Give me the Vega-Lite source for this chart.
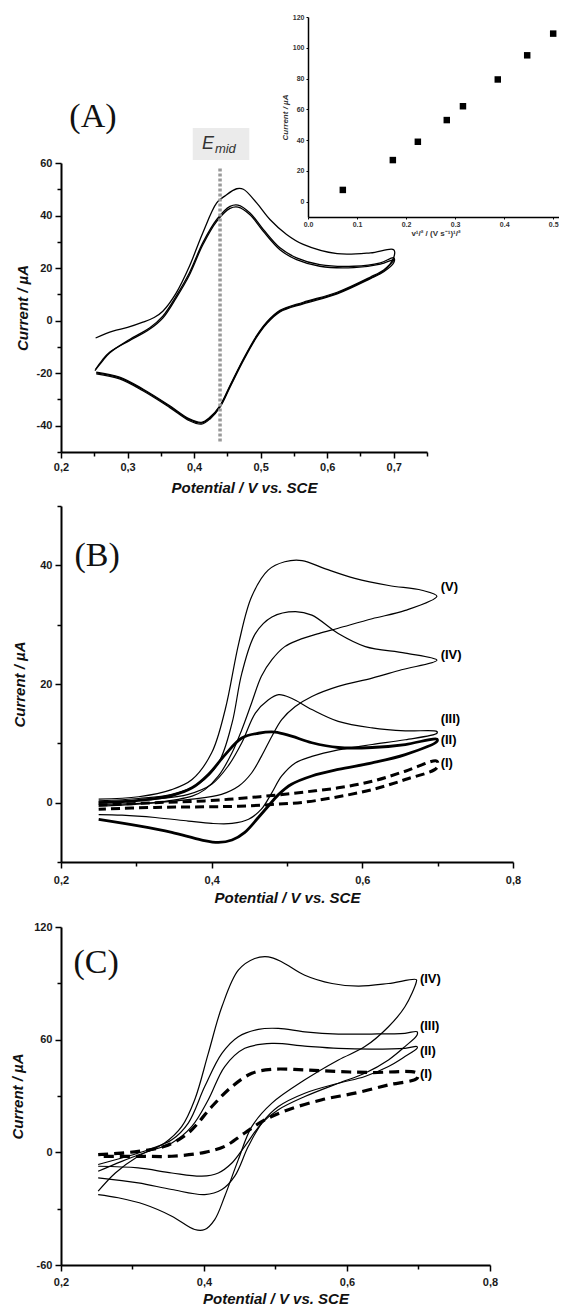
{
"$schema": "https://vega.github.io/schema/vega-lite/v6.json",
"padding": {"left": 10, "top": 13, "right": 0, "bottom": 0},
"spacing": 5,
"config": {
 "view": {"stroke": null},
 "axis": {"domainColor": "#000", "domainWidth": 2, "tickColor": "#000", "tickWidth": 1.5, "grid": false, "labelFont": "Liberation Sans", "labelFontWeight": "bold", "labelFontSize": 11, "labelColor": "#1a1a1a", "titleFont": "Liberation Sans", "titleFontSize": 15, "titleFontWeight": "bold", "titleColor": "#111", "labelFlush": false, "labelOverlap": false}
},
"datasets": {
 "A": [
  {"s":"A1","i":0,"x":0.252,"y":-6.6},{"s":"A1","i":1,"x":0.278,"y":-4.0},{"s":"A1","i":2,"x":0.300,"y":-2.6},{"s":"A1","i":3,"x":0.323,"y":-0.6},{"s":"A1","i":4,"x":0.340,"y":1.2},{"s":"A1","i":5,"x":0.353,"y":3.6},{"s":"A1","i":6,"x":0.373,"y":10.5},{"s":"A1","i":7,"x":0.393,"y":20.7},{"s":"A1","i":8,"x":0.413,"y":33.4},{"s":"A1","i":9,"x":0.434,"y":44.8},{"s":"A1","i":10,"x":0.446,"y":47.4},{"s":"A1","i":11,"x":0.464,"y":50.2},{"s":"A1","i":12,"x":0.474,"y":50.0},{"s":"A1","i":13,"x":0.494,"y":44.8},{"s":"A1","i":14,"x":0.514,"y":38.5},{"s":"A1","i":15,"x":0.539,"y":32.8},{"s":"A1","i":16,"x":0.564,"y":29.0},{"s":"A1","i":17,"x":0.615,"y":25.5},{"s":"A1","i":18,"x":0.665,"y":25.8},{"s":"A1","i":19,"x":0.700,"y":27.0},
  {"s":"A1","i":20,"x":0.700,"y":24.0},{"s":"A1","i":21,"x":0.685,"y":19.0},{"s":"A1","i":22,"x":0.665,"y":16.3},{"s":"A1","i":23,"x":0.615,"y":10.5},{"s":"A1","i":24,"x":0.564,"y":6.7},{"s":"A1","i":25,"x":0.529,"y":3.6},{"s":"A1","i":26,"x":0.509,"y":-0.9},{"s":"A1","i":27,"x":0.494,"y":-6.0},{"s":"A1","i":28,"x":0.474,"y":-14.9},{"s":"A1","i":29,"x":0.454,"y":-25.0},{"s":"A1","i":30,"x":0.439,"y":-32.6},{"s":"A1","i":31,"x":0.424,"y":-37.0},{"s":"A1","i":32,"x":0.411,"y":-39.0},{"s":"A1","i":33,"x":0.393,"y":-37.7},{"s":"A1","i":34,"x":0.363,"y":-32.6},{"s":"A1","i":35,"x":0.323,"y":-26.3},{"s":"A1","i":36,"x":0.288,"y":-21.8},{"s":"A1","i":37,"x":0.253,"y":-19.9},
  {"s":"A2","i":0,"x":0.251,"y":-19.0},{"s":"A2","i":1,"x":0.262,"y":-15.5},{"s":"A2","i":2,"x":0.273,"y":-12.3},{"s":"A2","i":3,"x":0.303,"y":-7.2},{"s":"A2","i":4,"x":0.333,"y":-2.8},{"s":"A2","i":5,"x":0.353,"y":1.7},{"s":"A2","i":6,"x":0.373,"y":9.3},{"s":"A2","i":7,"x":0.393,"y":18.2},{"s":"A2","i":8,"x":0.413,"y":29.6},{"s":"A2","i":9,"x":0.434,"y":38.5},{"s":"A2","i":10,"x":0.454,"y":43.5},{"s":"A2","i":11,"x":0.466,"y":44.0},{"s":"A2","i":12,"x":0.484,"y":41.0},{"s":"A2","i":13,"x":0.504,"y":34.7},{"s":"A2","i":14,"x":0.529,"y":27.7},{"s":"A2","i":15,"x":0.554,"y":23.9},{"s":"A2","i":16,"x":0.589,"y":21.3},{"s":"A2","i":17,"x":0.640,"y":20.7},{"s":"A2","i":18,"x":0.680,"y":22.0},{"s":"A2","i":19,"x":0.700,"y":23.9},
  {"s":"A2","i":20,"x":0.700,"y":22.0},{"s":"A2","i":21,"x":0.685,"y":18.6},{"s":"A2","i":22,"x":0.665,"y":16.0},{"s":"A2","i":23,"x":0.615,"y":10.2},{"s":"A2","i":24,"x":0.564,"y":6.4},{"s":"A2","i":25,"x":0.529,"y":3.3},{"s":"A2","i":26,"x":0.509,"y":-1.2},{"s":"A2","i":27,"x":0.494,"y":-6.3},{"s":"A2","i":28,"x":0.474,"y":-15.2},{"s":"A2","i":29,"x":0.454,"y":-25.3},{"s":"A2","i":30,"x":0.439,"y":-32.9},{"s":"A2","i":31,"x":0.424,"y":-37.4},{"s":"A2","i":32,"x":0.411,"y":-39.4},{"s":"A2","i":33,"x":0.393,"y":-38.1},{"s":"A2","i":34,"x":0.363,"y":-33.0},{"s":"A2","i":35,"x":0.323,"y":-26.7},{"s":"A2","i":36,"x":0.288,"y":-22.2},{"s":"A2","i":37,"x":0.253,"y":-20.3},
  {"s":"A3","i":0,"x":0.252,"y":-18.5},{"s":"A3","i":1,"x":0.262,"y":-15.0},{"s":"A3","i":2,"x":0.273,"y":-12.0},{"s":"A3","i":3,"x":0.303,"y":-7.6},{"s":"A3","i":4,"x":0.333,"y":-3.3},{"s":"A3","i":5,"x":0.353,"y":1.0},{"s":"A3","i":6,"x":0.373,"y":8.6},{"s":"A3","i":7,"x":0.393,"y":17.4},{"s":"A3","i":8,"x":0.413,"y":28.8},{"s":"A3","i":9,"x":0.434,"y":37.8},{"s":"A3","i":10,"x":0.454,"y":42.7},{"s":"A3","i":11,"x":0.466,"y":43.2},{"s":"A3","i":12,"x":0.484,"y":40.3},{"s":"A3","i":13,"x":0.504,"y":34.0},{"s":"A3","i":14,"x":0.529,"y":27.0},{"s":"A3","i":15,"x":0.554,"y":23.2},{"s":"A3","i":16,"x":0.589,"y":20.7},{"s":"A3","i":17,"x":0.640,"y":20.2},{"s":"A3","i":18,"x":0.680,"y":21.5},{"s":"A3","i":19,"x":0.700,"y":23.2},
  {"s":"A3","i":20,"x":0.700,"y":23.0},{"s":"A3","i":21,"x":0.685,"y":19.3},{"s":"A3","i":22,"x":0.665,"y":16.6},{"s":"A3","i":23,"x":0.615,"y":10.8},{"s":"A3","i":24,"x":0.564,"y":7.0},{"s":"A3","i":25,"x":0.529,"y":3.9},{"s":"A3","i":26,"x":0.509,"y":-0.6},{"s":"A3","i":27,"x":0.494,"y":-5.7},{"s":"A3","i":28,"x":0.474,"y":-14.6},{"s":"A3","i":29,"x":0.454,"y":-24.7},{"s":"A3","i":30,"x":0.439,"y":-32.3},{"s":"A3","i":31,"x":0.424,"y":-36.7},{"s":"A3","i":32,"x":0.411,"y":-38.7},{"s":"A3","i":33,"x":0.393,"y":-37.4},{"s":"A3","i":34,"x":0.363,"y":-32.3},{"s":"A3","i":35,"x":0.323,"y":-26.0},{"s":"A3","i":36,"x":0.288,"y":-21.5},{"s":"A3","i":37,"x":0.253,"y":-19.6}
 ],
 "inset": [
  {"x":0.071,"y":7.6},{"x":0.173,"y":27.0},{"x":0.224,"y":38.9},{"x":0.283,"y":53.0},{"x":0.316,"y":62.0},{"x":0.387,"y":79.4},{"x":0.447,"y":95.1},{"x":0.500,"y":109.2}
 ],
 "B": [
  {"s":"V","i":0,"x":0.250,"y":0.6},{"s":"V","i":1,"x":0.303,"y":1.0},{"s":"V","i":2,"x":0.347,"y":2.2},{"s":"V","i":3,"x":0.374,"y":3.9},{"s":"V","i":4,"x":0.400,"y":8.4},{"s":"V","i":5,"x":0.418,"y":15.7},{"s":"V","i":6,"x":0.436,"y":26.9},{"s":"V","i":7,"x":0.453,"y":34.7},{"s":"V","i":8,"x":0.475,"y":39.2},{"s":"V","i":9,"x":0.497,"y":40.6},{"s":"V","i":10,"x":0.520,"y":40.8},{"s":"V","i":11,"x":0.551,"y":39.4},{"s":"V","i":12,"x":0.590,"y":37.8},{"s":"V","i":13,"x":0.635,"y":36.6},{"s":"V","i":14,"x":0.679,"y":35.8},{"s":"V","i":15,"x":0.699,"y":34.8},
  {"s":"V","i":16,"x":0.657,"y":32.4},{"s":"V","i":17,"x":0.613,"y":31.0},{"s":"V","i":18,"x":0.568,"y":29.4},{"s":"V","i":19,"x":0.542,"y":28.5},{"s":"V","i":20,"x":0.515,"y":27.4},{"s":"V","i":21,"x":0.497,"y":26.3},{"s":"V","i":22,"x":0.480,"y":24.1},{"s":"V","i":23,"x":0.466,"y":21.3},{"s":"V","i":24,"x":0.453,"y":16.8},{"s":"V","i":25,"x":0.440,"y":12.3},{"s":"V","i":26,"x":0.427,"y":8.4},{"s":"V","i":27,"x":0.409,"y":4.5},{"s":"V","i":28,"x":0.391,"y":2.2},{"s":"V","i":29,"x":0.374,"y":1.1},{"s":"V","i":30,"x":0.325,"y":0.0},{"s":"V","i":31,"x":0.281,"y":-0.4},{"s":"V","i":32,"x":0.250,"y":-0.6},
  {"s":"IV","i":0,"x":0.250,"y":0.3},{"s":"IV","i":1,"x":0.303,"y":0.7},{"s":"IV","i":2,"x":0.347,"y":1.4},{"s":"IV","i":3,"x":0.382,"y":3.1},{"s":"IV","i":4,"x":0.409,"y":6.7},{"s":"IV","i":5,"x":0.427,"y":13.4},{"s":"IV","i":6,"x":0.440,"y":21.8},{"s":"IV","i":7,"x":0.458,"y":28.5},{"s":"IV","i":8,"x":0.480,"y":31.3},{"s":"IV","i":9,"x":0.511,"y":32.2},{"s":"IV","i":10,"x":0.533,"y":31.6},{"s":"IV","i":11,"x":0.568,"y":28.5},{"s":"IV","i":12,"x":0.604,"y":26.3},{"s":"IV","i":13,"x":0.657,"y":25.2},{"s":"IV","i":14,"x":0.699,"y":24.0},
  {"s":"IV","i":15,"x":0.652,"y":22.4},{"s":"IV","i":16,"x":0.613,"y":21.0},{"s":"IV","i":17,"x":0.568,"y":19.6},{"s":"IV","i":18,"x":0.533,"y":17.9},{"s":"IV","i":19,"x":0.511,"y":16.2},{"s":"IV","i":20,"x":0.493,"y":14.0},{"s":"IV","i":21,"x":0.480,"y":11.2},{"s":"IV","i":22,"x":0.466,"y":7.8},{"s":"IV","i":23,"x":0.453,"y":5.0},{"s":"IV","i":24,"x":0.436,"y":2.8},{"s":"IV","i":25,"x":0.413,"y":1.4},{"s":"IV","i":26,"x":0.374,"y":0.6},{"s":"IV","i":27,"x":0.325,"y":0.0},{"s":"IV","i":28,"x":0.250,"y":-0.3},
  {"s":"III","i":0,"x":0.250,"y":0.1},{"s":"III","i":1,"x":0.325,"y":0.6},{"s":"III","i":2,"x":0.369,"y":1.4},{"s":"III","i":3,"x":0.400,"y":3.1},{"s":"III","i":4,"x":0.422,"y":6.2},{"s":"III","i":5,"x":0.440,"y":10.1},{"s":"III","i":6,"x":0.458,"y":15.1},{"s":"III","i":7,"x":0.475,"y":17.3},{"s":"III","i":8,"x":0.489,"y":18.2},{"s":"III","i":9,"x":0.506,"y":17.6},{"s":"III","i":10,"x":0.533,"y":15.7},{"s":"III","i":11,"x":0.568,"y":13.7},{"s":"III","i":12,"x":0.613,"y":12.6},{"s":"III","i":13,"x":0.657,"y":12.1},{"s":"III","i":14,"x":0.699,"y":12.0},
  {"s":"III","i":15,"x":0.699,"y":11.7},{"s":"III","i":16,"x":0.657,"y":10.6},{"s":"III","i":17,"x":0.613,"y":9.8},{"s":"III","i":18,"x":0.568,"y":8.9},{"s":"III","i":19,"x":0.533,"y":7.8},{"s":"III","i":20,"x":0.511,"y":6.7},{"s":"III","i":21,"x":0.493,"y":4.5},{"s":"III","i":22,"x":0.480,"y":1.7},{"s":"III","i":23,"x":0.466,"y":-1.1},{"s":"III","i":24,"x":0.449,"y":-2.8},{"s":"III","i":25,"x":0.427,"y":-3.5},{"s":"III","i":26,"x":0.400,"y":-3.5},{"s":"III","i":27,"x":0.369,"y":-3.1},{"s":"III","i":28,"x":0.325,"y":-2.5},{"s":"III","i":29,"x":0.281,"y":-2.1},{"s":"III","i":30,"x":0.250,"y":-2.0},
  {"s":"II","i":0,"x":0.250,"y":0.0},{"s":"II","i":1,"x":0.303,"y":0.4},{"s":"II","i":2,"x":0.347,"y":1.2},{"s":"II","i":3,"x":0.374,"y":2.5},{"s":"II","i":4,"x":0.396,"y":4.8},{"s":"II","i":5,"x":0.418,"y":8.1},{"s":"II","i":6,"x":0.440,"y":10.9},{"s":"II","i":7,"x":0.462,"y":11.7},{"s":"II","i":8,"x":0.484,"y":11.9},{"s":"II","i":9,"x":0.506,"y":11.2},{"s":"II","i":10,"x":0.533,"y":10.1},{"s":"II","i":11,"x":0.568,"y":9.3},{"s":"II","i":12,"x":0.613,"y":9.3},{"s":"II","i":13,"x":0.657,"y":9.8},{"s":"II","i":14,"x":0.699,"y":10.7},
  {"s":"II","i":15,"x":0.699,"y":10.3},{"s":"II","i":16,"x":0.657,"y":8.1},{"s":"II","i":17,"x":0.613,"y":6.7},{"s":"II","i":18,"x":0.568,"y":5.6},{"s":"II","i":19,"x":0.533,"y":4.5},{"s":"II","i":20,"x":0.506,"y":3.1},{"s":"II","i":21,"x":0.489,"y":1.4},{"s":"II","i":22,"x":0.475,"y":-0.6},{"s":"II","i":23,"x":0.462,"y":-2.5},{"s":"II","i":24,"x":0.444,"y":-5.0},{"s":"II","i":25,"x":0.427,"y":-6.3},{"s":"II","i":26,"x":0.409,"y":-6.7},{"s":"II","i":27,"x":0.387,"y":-6.3},{"s":"II","i":28,"x":0.347,"y":-5.0},{"s":"II","i":29,"x":0.303,"y":-3.9},{"s":"II","i":30,"x":0.250,"y":-2.8},
  {"s":"I","i":0,"x":0.250,"y":-0.4},{"s":"I","i":1,"x":0.325,"y":0.0},{"s":"I","i":2,"x":0.391,"y":0.3},{"s":"I","i":3,"x":0.436,"y":0.7},{"s":"I","i":4,"x":0.480,"y":1.2},{"s":"I","i":5,"x":0.524,"y":1.8},{"s":"I","i":6,"x":0.568,"y":2.5},{"s":"I","i":7,"x":0.613,"y":3.6},{"s":"I","i":8,"x":0.657,"y":5.3},{"s":"I","i":9,"x":0.699,"y":7.0},
  {"s":"I","i":10,"x":0.699,"y":5.9},{"s":"I","i":11,"x":0.657,"y":3.9},{"s":"I","i":12,"x":0.613,"y":2.2},{"s":"I","i":13,"x":0.568,"y":1.0},{"s":"I","i":14,"x":0.524,"y":0.1},{"s":"I","i":15,"x":0.480,"y":-0.3},{"s":"I","i":16,"x":0.436,"y":-0.6},{"s":"I","i":17,"x":0.391,"y":-0.7},{"s":"I","i":18,"x":0.325,"y":-0.8},{"s":"I","i":19,"x":0.250,"y":-1.1}
 ],
 "C": [
  {"s":"IV","i":0,"x":0.252,"y":-20.7},{"s":"IV","i":1,"x":0.276,"y":-11.0},{"s":"IV","i":2,"x":0.308,"y":-2.1},{"s":"IV","i":3,"x":0.345,"y":5.0},{"s":"IV","i":4,"x":0.369,"y":13.8},{"s":"IV","i":5,"x":0.387,"y":28.0},{"s":"IV","i":6,"x":0.406,"y":52.7},{"s":"IV","i":7,"x":0.425,"y":77.5},{"s":"IV","i":8,"x":0.448,"y":97.0},{"s":"IV","i":9,"x":0.471,"y":103.2},{"s":"IV","i":10,"x":0.490,"y":104.1},{"s":"IV","i":11,"x":0.509,"y":101.4},{"s":"IV","i":12,"x":0.541,"y":94.3},{"s":"IV","i":13,"x":0.579,"y":89.9},{"s":"IV","i":14,"x":0.616,"y":88.5},{"s":"IV","i":15,"x":0.658,"y":89.9},{"s":"IV","i":16,"x":0.697,"y":92.0},
  {"s":"IV","i":17,"x":0.697,"y":90.8},{"s":"IV","i":18,"x":0.681,"y":77.5},{"s":"IV","i":19,"x":0.658,"y":66.9},{"s":"IV","i":20,"x":0.625,"y":56.3},{"s":"IV","i":21,"x":0.588,"y":49.2},{"s":"IV","i":22,"x":0.541,"y":38.6},{"s":"IV","i":23,"x":0.495,"y":26.2},{"s":"IV","i":24,"x":0.467,"y":13.8},{"s":"IV","i":25,"x":0.448,"y":-3.9},{"s":"IV","i":26,"x":0.429,"y":-23.4},{"s":"IV","i":27,"x":0.415,"y":-35.8},{"s":"IV","i":28,"x":0.401,"y":-41.1},{"s":"IV","i":29,"x":0.387,"y":-41.1},{"s":"IV","i":30,"x":0.355,"y":-34.0},{"s":"IV","i":31,"x":0.317,"y":-27.8},{"s":"IV","i":32,"x":0.280,"y":-24.2},{"s":"IV","i":33,"x":0.252,"y":-22.5},
  {"s":"III","i":0,"x":0.252,"y":-6.5},{"s":"III","i":1,"x":0.285,"y":-3.0},{"s":"III","i":2,"x":0.322,"y":1.4},{"s":"III","i":3,"x":0.355,"y":6.7},{"s":"III","i":4,"x":0.378,"y":15.6},{"s":"III","i":5,"x":0.401,"y":35.0},{"s":"III","i":6,"x":0.425,"y":52.7},{"s":"III","i":7,"x":0.448,"y":61.6},{"s":"III","i":8,"x":0.476,"y":65.5},{"s":"III","i":9,"x":0.504,"y":66.0},{"s":"III","i":10,"x":0.541,"y":64.2},{"s":"III","i":11,"x":0.588,"y":63.0},{"s":"III","i":12,"x":0.634,"y":63.0},{"s":"III","i":13,"x":0.681,"y":63.4},{"s":"III","i":14,"x":0.698,"y":64.2},
  {"s":"III","i":15,"x":0.698,"y":62.5},{"s":"III","i":16,"x":0.681,"y":56.3},{"s":"III","i":17,"x":0.658,"y":49.2},{"s":"III","i":18,"x":0.625,"y":42.1},{"s":"III","i":19,"x":0.588,"y":36.8},{"s":"III","i":20,"x":0.541,"y":29.7},{"s":"III","i":21,"x":0.504,"y":22.7},{"s":"III","i":22,"x":0.481,"y":15.6},{"s":"III","i":23,"x":0.457,"y":3.2},{"s":"III","i":24,"x":0.439,"y":-5.7},{"s":"III","i":25,"x":0.420,"y":-11.0},{"s":"III","i":26,"x":0.397,"y":-12.7},{"s":"III","i":27,"x":0.355,"y":-11.0},{"s":"III","i":28,"x":0.308,"y":-8.3},{"s":"III","i":29,"x":0.252,"y":-7.4},
  {"s":"II","i":0,"x":0.252,"y":-10.1},{"s":"II","i":1,"x":0.285,"y":-4.8},{"s":"II","i":2,"x":0.322,"y":0.5},{"s":"II","i":3,"x":0.355,"y":5.0},{"s":"II","i":4,"x":0.383,"y":13.8},{"s":"II","i":5,"x":0.406,"y":28.0},{"s":"II","i":6,"x":0.429,"y":45.7},{"s":"II","i":7,"x":0.457,"y":55.4},{"s":"II","i":8,"x":0.495,"y":58.0},{"s":"II","i":9,"x":0.541,"y":56.6},{"s":"II","i":10,"x":0.588,"y":55.4},{"s":"II","i":11,"x":0.634,"y":55.0},{"s":"II","i":12,"x":0.681,"y":55.4},{"s":"II","i":13,"x":0.698,"y":56.3},
  {"s":"II","i":14,"x":0.698,"y":55.4},{"s":"II","i":15,"x":0.681,"y":51.0},{"s":"II","i":16,"x":0.658,"y":45.7},{"s":"II","i":17,"x":0.625,"y":40.4},{"s":"II","i":18,"x":0.588,"y":36.8},{"s":"II","i":19,"x":0.541,"y":31.5},{"s":"II","i":20,"x":0.504,"y":24.4},{"s":"II","i":21,"x":0.481,"y":15.6},{"s":"II","i":22,"x":0.462,"y":3.2},{"s":"II","i":23,"x":0.443,"y":-12.7},{"s":"II","i":24,"x":0.425,"y":-19.8},{"s":"II","i":25,"x":0.401,"y":-22.5},{"s":"II","i":26,"x":0.355,"y":-19.8},{"s":"II","i":27,"x":0.308,"y":-16.3},{"s":"II","i":28,"x":0.252,"y":-13.6},
  {"s":"I","i":0,"x":0.252,"y":-1.2},{"s":"I","i":1,"x":0.308,"y":0.5},{"s":"I","i":2,"x":0.345,"y":3.2},{"s":"I","i":3,"x":0.378,"y":10.3},{"s":"I","i":4,"x":0.411,"y":24.4},{"s":"I","i":5,"x":0.439,"y":35.0},{"s":"I","i":6,"x":0.467,"y":42.1},{"s":"I","i":7,"x":0.495,"y":44.2},{"s":"I","i":8,"x":0.541,"y":43.9},{"s":"I","i":9,"x":0.588,"y":43.0},{"s":"I","i":10,"x":0.634,"y":42.5},{"s":"I","i":11,"x":0.698,"y":42.1},
  {"s":"I","i":12,"x":0.698,"y":39.5},{"s":"I","i":13,"x":0.658,"y":35.9},{"s":"I","i":14,"x":0.611,"y":31.5},{"s":"I","i":15,"x":0.565,"y":28.0},{"s":"I","i":16,"x":0.518,"y":22.7},{"s":"I","i":17,"x":0.485,"y":17.3},{"s":"I","i":18,"x":0.457,"y":10.3},{"s":"I","i":19,"x":0.429,"y":3.2},{"s":"I","i":20,"x":0.401,"y":0.0},{"s":"I","i":21,"x":0.355,"y":-2.1},{"s":"I","i":22,"x":0.308,"y":-2.1},{"s":"I","i":23,"x":0.252,"y":-2.1}
 ]
},
"vconcat": [
 {
  "width": 366, "height": 289,
  "layer": [
   {
    "encoding": {
     "x": {"field": "x", "type": "quantitative", "scale": {"domain": [0.2, 0.75], "nice": false, "zero": false},
       "axis": {"values": [0.2,0.25,0.3,0.35,0.4,0.45,0.5,0.55,0.6,0.65,0.7,0.75], "labelExpr": "abs(datum.value*10-round(datum.value*10))<0.01 ? replace(format(datum.value,'.1f'),'.',',') : ''", "tickSize": {"condition": {"test": "abs(datum.value*10-round(datum.value*10))<0.01", "value": 6}, "value": 4}, "labelPadding": 3, "title": "Potential / V vs. SCE", "titleFontStyle": "italic", "titlePadding": 8}},
     "y": {"field": "y", "type": "quantitative", "scale": {"domain": [-50, 60], "nice": false, "zero": false},
       "axis": {"values": [-50,-40,-30,-20,-10,0,10,20,30,40,50,60], "labelExpr": "datum.value % 20 === 0 && datum.value > -50 ? '' + datum.value : ''", "tickSize": {"condition": {"test": "datum.value % 20 === 0", "value": 6}, "value": 4}, "labelPadding": 3, "title": "Current / µA", "titleFontStyle": "italic", "titlePadding": 6}}
    },
    "layer": [
     {"data": {"name": "A"}, "mark": {"type": "line", "stroke": "#000", "strokeWidth": 1.3, "interpolate": "catmull-rom"}, "encoding": {"detail": {"field": "s"}, "order": {"field": "i", "type": "quantitative"}}},
     {"data": {"values": [{"x": 0.398, "x2": 0.483, "y": 61.1, "y2": 73.3}]}, "mark": {"type": "rect", "fill": "#ebebeb"}, "encoding": {"x2": {"field": "x2"}, "y2": {"field": "y2"}}},
     {"data": {"values": [{"x": 0.439, "y": -46, "y2": 58}]}, "mark": {"type": "rule", "stroke": "#999", "strokeWidth": 3.5, "strokeDash": [3, 2]}, "encoding": {"y2": {"field": "y2"}}},
     {"data": {"values": [{"x": 0.421, "y": 67.2, "t": "E"}]}, "mark": {"type": "text", "font": "Liberation Sans", "fontStyle": "italic", "fontSize": 18, "color": "#333", "align": "center", "baseline": "middle"}, "encoding": {"text": {"field": "t"}}},
     {"data": {"values": [{"x": 0.447, "y": 65.2, "t": "mid"}]}, "mark": {"type": "text", "font": "Liberation Sans", "fontStyle": "italic", "fontSize": 13, "color": "#333", "align": "center", "baseline": "middle"}, "encoding": {"text": {"field": "t"}}},
     {"data": {"values": [{"x": 0.248, "y": 77.5, "t": "(A)"}]}, "mark": {"type": "text", "font": "Liberation Serif", "fontSize": 34, "color": "#111", "align": "center", "baseline": "middle"}, "encoding": {"text": {"field": "t"}}}
    ]
   },
   {
    "data": {"name": "inset"},
    "mark": {"type": "square", "size": 42, "color": "#000", "opacity": 1},
    "encoding": {
     "x": {"field": "x", "type": "quantitative", "scale": {"domain": [0, 0.52], "range": [247, 502], "nice": false, "zero": false},
       "axis": {"orient": "bottom", "offset": -235, "values": [0,0.1,0.2,0.3,0.4,0.5], "format": ".1f", "labelFontSize": 7, "labelColor": "#333", "tickSize": 2, "tickWidth": 1, "domainWidth": 1.5, "labelPadding": 1, "title": "v¹/² / (V s⁻¹)¹/²", "titleFontSize": 8, "titleColor": "#333", "titlePadding": 2}},
     "y": {"field": "y", "type": "quantitative", "scale": {"domain": [-10, 120], "range": [54, -146], "nice": false, "zero": false},
       "axis": {"orient": "left", "offset": -247, "values": [0,20,40,60,80,100,120], "labelFontSize": 7, "labelColor": "#333", "tickSize": 2, "tickWidth": 1, "domainWidth": 1.5, "labelPadding": 2, "title": "Current / µA", "titleFontSize": 8, "titleFontStyle": "italic", "titleColor": "#333", "titlePadding": 3}}
    }
   }
  ],
  "resolve": {"scale": {"x": "independent", "y": "independent"}, "axis": {"x": "independent", "y": "independent"}}
 },
 {
  "spacing": 16,
  "vconcat": [
 {
  "width": 452, "height": 356,
  "encoding": {
   "x": {"field": "x", "type": "quantitative", "scale": {"domain": [0.2, 0.8], "nice": false, "zero": false},
     "axis": {"values": [0.2,0.3,0.4,0.5,0.6,0.7,0.8], "labelExpr": "round(datum.value*10) % 2 === 0 ? replace(format(datum.value,'.1f'),'.',',') : ''", "tickSize": {"condition": {"test": "round(datum.value*10) % 2 === 0", "value": 6}, "value": 4}, "labelPadding": 6, "title": "Potential / V vs. SCE", "titleFontStyle": "italic", "titlePadding": 5}},
   "y": {"field": "y", "type": "quantitative", "scale": {"domain": [-10, 50], "nice": false, "zero": false},
     "axis": {"values": [-10,0,10,20,30,40,50], "labelExpr": "datum.value % 20 === 0 ? '' + datum.value : ''", "tickSize": {"condition": {"test": "datum.value % 20 === 0", "value": 6}, "value": 4}, "labelPadding": 3, "title": "Current / µA", "titleFontStyle": "italic", "titlePadding": 12}}
  },
  "layer": [
   {"data": {"name": "B"}, "transform": [{"filter": "indexof(['III','IV','V'], datum.s) >= 0"}], "mark": {"type": "line", "stroke": "#000", "strokeWidth": 1.2, "interpolate": "catmull-rom"}, "encoding": {"detail": {"field": "s"}, "order": {"field": "i", "type": "quantitative"}}},
   {"data": {"name": "B"}, "transform": [{"filter": "datum.s === 'II'"}], "mark": {"type": "line", "stroke": "#000", "strokeWidth": 2.8, "interpolate": "catmull-rom"}, "encoding": {"detail": {"field": "s"}, "order": {"field": "i", "type": "quantitative"}}},
   {"data": {"name": "B"}, "transform": [{"filter": "datum.s === 'I'"}], "mark": {"type": "line", "stroke": "#000", "strokeWidth": 3, "strokeDash": [9, 5], "interpolate": "catmull-rom"}, "encoding": {"detail": {"field": "s"}, "order": {"field": "i", "type": "quantitative"}}},
   {"data": {"values": [{"x": 0.704, "y": 36.3, "t": "(V)"}, {"x": 0.704, "y": 24.9, "t": "(IV)"}, {"x": 0.704, "y": 14.1, "t": "(III)"}, {"x": 0.704, "y": 10.5, "t": "(II)"}, {"x": 0.704, "y": 6.7, "t": "(I)"}]}, "mark": {"type": "text", "font": "Liberation Sans", "fontWeight": "bold", "fontSize": 13, "color": "#000", "align": "left", "baseline": "middle"}, "encoding": {"text": {"field": "t"}}},
   {"data": {"values": [{"x": 0.248, "y": 41.5, "t": "(B)"}]}, "mark": {"type": "text", "font": "Liberation Serif", "fontSize": 34, "color": "#111", "align": "center", "baseline": "middle"}, "encoding": {"text": {"field": "t"}}}
  ]
 },
 {
  "width": 429, "height": 338,
  "encoding": {
   "x": {"field": "x", "type": "quantitative", "scale": {"domain": [0.2, 0.8], "nice": false, "zero": false},
     "axis": {"values": [0.2,0.3,0.4,0.5,0.6,0.7,0.8], "labelExpr": "round(datum.value*10) % 2 === 0 ? replace(format(datum.value,'.1f'),'.',',') : ''", "tickSize": {"condition": {"test": "round(datum.value*10) % 2 === 0", "value": 6}, "value": 4}, "labelPadding": 5, "title": "Potential / V vs. SCE", "titleFontStyle": "italic", "titlePadding": 4}},
   "y": {"field": "y", "type": "quantitative", "scale": {"domain": [-60, 120], "nice": false, "zero": false},
     "axis": {"values": [-60,-30,0,30,60,90,120], "labelExpr": "datum.value % 60 === 0 ? '' + datum.value : ''", "tickSize": {"condition": {"test": "datum.value % 60 === 0", "value": 6}, "value": 4}, "labelPadding": 3, "title": "Current / µA", "titleFontStyle": "italic", "titlePadding": 8}}
  },
  "layer": [
   {"data": {"name": "C"}, "transform": [{"filter": "datum.s !== 'I'"}], "mark": {"type": "line", "stroke": "#000", "strokeWidth": 1.2, "interpolate": "catmull-rom"}, "encoding": {"detail": {"field": "s"}, "order": {"field": "i", "type": "quantitative"}}},
   {"data": {"name": "C"}, "transform": [{"filter": "datum.s === 'I'"}], "mark": {"type": "line", "stroke": "#000", "strokeWidth": 3.2, "strokeDash": [10, 6], "interpolate": "catmull-rom"}, "encoding": {"detail": {"field": "s"}, "order": {"field": "i", "type": "quantitative"}}},
   {"data": {"values": [{"x": 0.702, "y": 92.5, "t": "(IV)"}, {"x": 0.702, "y": 67.1, "t": "(III)"}, {"x": 0.702, "y": 53.8, "t": "(II)"}, {"x": 0.702, "y": 41.7, "t": "(I)"}]}, "mark": {"type": "text", "font": "Liberation Sans", "fontWeight": "bold", "fontSize": 13, "color": "#000", "align": "left", "baseline": "middle"}, "encoding": {"text": {"field": "t"}}},
   {"data": {"values": [{"x": 0.249, "y": 101, "t": "(C)"}]}, "mark": {"type": "text", "font": "Liberation Serif", "fontSize": 34, "color": "#111", "align": "center", "baseline": "middle"}, "encoding": {"text": {"field": "t"}}}
  ]
 }
  ]
 }
]
}
